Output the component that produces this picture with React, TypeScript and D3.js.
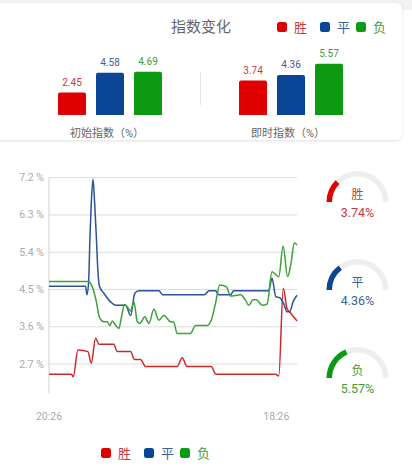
import React from 'react'
import * as d3 from 'd3'

// ---- data ----
const outcomes = ['胜', '平', '负']
const colors = ['#e00000', '#0b4596', '#0c9a12']
const textColors = ['#c83a3a', '#3d5f93', '#3f9a3f']
const lineColors = ['#cc2a2a', '#2d5295', '#3aa33a']

const groups = ['初始指数（%）', '即时指数（%）']
const initialValues = [2.45, 4.58, 4.69]
const liveValues = [3.74, 4.36, 5.57]

const yTicks = [2.7, 3.6, 4.5, 5.4, 6.3, 7.2]
const xTickLabels = [
  { t: 0, label: '20:26' },
  { t: 1210, label: '18:26' },
]

// [minutes since start, value]
const winSeries: [number, number][] = [
  [0, 2.45], [120, 2.45], [129, 2.39], [154, 3.04], [207, 3.0], [225, 2.72],
  [248, 3.32], [266, 3.18], [345, 3.18], [363, 3.0], [434, 3.0], [455, 2.81],
  [487, 2.81], [514, 2.64], [682, 2.64], [709, 2.85], [735, 2.64], [863, 2.64],
  [889, 2.45], [1205, 2.45], [1223, 2.41], [1247, 4.53], [1267, 4.04],
  [1285, 3.94], [1320, 3.74],
]
const drawSeries: [number, number][] = [
  [0, 4.58], [195, 4.58], [202, 4.37], [211, 4.7], [218, 5.77], [225, 6.58],
  [234, 7.16], [243, 6.58], [252, 5.77], [260, 4.97], [269, 4.57], [292, 4.41],
  [328, 4.2], [354, 4.12], [408, 4.12], [434, 3.87], [457, 4.41], [478, 4.47],
  [585, 4.47], [606, 4.37], [827, 4.37], [852, 4.47], [886, 4.47], [904, 4.37],
  [966, 4.37], [983, 4.47], [1169, 4.47], [1187, 4.77], [1207, 4.33],
  [1231, 4.29], [1249, 4.16], [1267, 3.96], [1281, 3.96], [1299, 4.2],
  [1320, 4.36],
]
const lossSeries: [number, number][] = [
  [0, 4.69], [207, 4.69], [230, 4.57], [248, 4.29], [271, 3.8], [292, 3.72],
  [310, 3.72], [324, 3.63], [337, 3.74], [354, 3.64], [372, 3.56], [386, 3.84],
  [402, 4.14], [416, 4.08], [434, 3.98], [452, 4.2], [470, 3.72], [484, 3.68],
  [510, 3.84], [532, 3.68], [558, 4.02], [585, 3.76], [611, 3.87], [647, 3.72],
  [664, 3.71], [682, 3.44], [753, 3.44], [780, 3.63], [842, 3.63], [863, 3.75],
  [886, 4.16], [909, 4.61], [944, 4.57], [966, 4.34], [1019, 4.37],
  [1045, 4.25], [1063, 4.12], [1086, 4.25], [1104, 4.25], [1134, 4.12],
  [1161, 4.15], [1187, 4.93], [1223, 4.81], [1246, 5.55], [1270, 4.81],
  [1288, 5.13], [1306, 5.63], [1320, 5.57],
]
const series = [winSeries, drawSeries, lossSeries]
const gaugeMax = 15

const FONT = "Roboto, 'Noto Sans CJK SC', sans-serif"

function topRoundedBar(x: number, y: number, w: number, h: number, r: number) {
  return `M${x},${y + h}V${y + r}Q${x},${y} ${x + r},${y}H${x + w - r}Q${x + w},${y} ${x + w},${y + r}V${y + h}Z`
}

function Legend({ x, y }: { x: number; y: number }) {
  const offsets = [0, 43, 79]
  return (
    <g transform={`translate(${x},${y})`}>
      {outcomes.map((o, i) => (
        <g key={o} transform={`translate(${offsets[i]},0)`}>
          <rect x={0} y={-5} width={10} height={10} rx={2.5} fill={colors[i]} />
          <text x={17} y={4.5} fontSize={13} fill={textColors[i]}>{o}</text>
        </g>
      ))}
    </g>
  )
}

export default function App() {
  // bar card scales
  const groupX = d3.scalePoint<string>().domain(groups).range([110, 291])
  const barY = d3.scaleLinear().domain([0, 6]).range([115, 115 - 55.2])
  const barValues = [initialValues, liveValues]

  // line chart scales
  const x = d3.scaleLinear().domain([0, 1320]).range([49, 297])
  const y = d3.scaleLinear().domain([2.0, 7.2]).range([393, 177.7])
  const line = d3.line<[number, number]>()
    .x(d => x(d[0]))
    .y(d => y(d[1]))
    .curve(d3.curveMonotoneX)

  const gaugeYs = d3.scalePoint<string>().domain(outcomes).range([202, 378])
  const trackArc = d3.arc()({ innerRadius: 25.5, outerRadius: 31, startAngle: -Math.PI / 2, endAngle: Math.PI / 2 }) as string

  return (
    <div style={{ position: 'absolute', left: 0, top: 0 }}>
      <svg width={412} height={471} style={{ display: 'block', fontFamily: FONT }}>
        <defs>
          <filter id="shadow" x="-5%" y="-10%" width="110%" height="130%">
            <feDropShadow dx="0" dy="1" stdDeviation="1.5" floodColor="#000" floodOpacity="0.12" />
          </filter>
        </defs>
        <rect x={0} y={0} width={412} height={471} fill="#fff" />
        <rect x={0} y={0} width={412} height={10} fill="#f2f2f2" />
        <rect x={-6} y={3} width={408} height={137} rx={6} fill="#fff" filter="url(#shadow)" />

        {/* header */}
        <text x={201} y={32} textAnchor="middle" fontSize={15} fill="#666">指数变化</text>
        <Legend x={277} y={27} />

        {/* bar groups */}
        {groups.map((g, gi) => {
          const inner = d3.scaleBand<string>()
            .domain(outcomes)
            .range([groupX(g)! - 52, groupX(g)! + 52])
            .paddingInner(10 / 38)
          return (
            <g key={g}>
              {outcomes.map((o, i) => {
                const v = barValues[gi][i]
                const bx = inner(o)!
                const by = barY(v)
                return (
                  <g key={o}>
                    <path d={topRoundedBar(bx, by, inner.bandwidth(), barY(0) - by, 2)} fill={colors[i]} />
                    <text x={bx + inner.bandwidth() / 2} y={by - 6.5} textAnchor="middle" fontSize={10} fill={textColors[i]}>
                      {v.toFixed(2)}
                    </text>
                  </g>
                )
              })}
              <text x={groupX(g)! - 3} y={137} textAnchor="middle" fontSize={11} fill="#666">{g}</text>
            </g>
          )
        })}
        <line x1={200.5} x2={200.5} y1={72} y2={105} stroke="#e2e2e2" />

        {/* line chart */}
        {yTicks.map(t => (
          <g key={t}>
            <line x1={x(0)} x2={x(1320)} y1={y(t)} y2={y(t)} stroke="#dcdcdc" />
            <text x={44} y={y(t) + 3.5} textAnchor="end" fontSize={10.5} fill="#aaa">{`${t.toFixed(1)} %`}</text>
          </g>
        ))}
        <line x1={x(0)} x2={x(0)} y1={y(7.2)} y2={y(2.0)} stroke="#d0d0d0" />
        {xTickLabels.map(d => (
          <text key={d.label} x={x(d.t)} y={420} textAnchor="middle" fontSize={10.5} fill="#aaa">{d.label}</text>
        ))}
        {series.map((s, i) => (
          <path key={i} d={line(s)!} fill="none" stroke={lineColors[i]} strokeWidth={1.5} />
        ))}

        {/* gauges */}
        {outcomes.map((o, i) => {
          const cy = gaugeYs(o)!
          const v = liveValues[i]
          const valueArc = d3.arc()({
            innerRadius: 25.5,
            outerRadius: 31,
            startAngle: -Math.PI / 2,
            endAngle: -Math.PI / 2 + Math.PI * v / gaugeMax,
          }) as string
          return (
            <g key={o} transform={`translate(357.5,${cy})`}>
              <path d={trackArc} fill="#eeeeee" />
              <path d={valueArc} fill={colors[i]} />
              <text x={0} y={-3.5} textAnchor="middle" fontSize={12} fill={textColors[i]}>{o}</text>
              <text x={0} y={15} textAnchor="middle" fontSize={12.5} fill={textColors[i]}>{`${v}%`}</text>
            </g>
          )
        })}

        <Legend x={101} y={453} />
      </svg>
    </div>
  )
}
